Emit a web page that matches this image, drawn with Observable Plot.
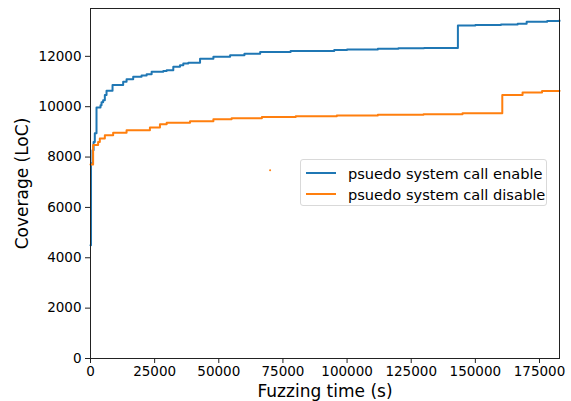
<!DOCTYPE html>
<html>
<head>
<meta charset="utf-8">
<script src="https://cdn.jsdelivr.net/npm/d3@7"></script>
<script src="https://cdn.jsdelivr.net/npm/@observablehq/plot@0.6"></script>
<style>
  html, body { margin: 0; padding: 0; background: #fff; }
  #wrap { position: relative; width: 571px; height: 401px; font-family: "DejaVu Sans", sans-serif; }
  #legend { position: absolute; left: 300px; top: 159px; width: 247px; height: 47px; border: 1px solid #d9d9d9; border-radius: 3px; background: rgba(255,255,255,0.8); box-sizing: border-box; font-size: 14.6px; color: #000; }
  .row { position: absolute; left: 0; height: 20px; display: flex; align-items: center; }
  .sw { width: 30px; height: 2px; margin-left: 5px; margin-right: 12px; }
</style>
</head>
<body>
<div id="wrap"></div>
<script>
const seriesNames = ["psuedo system call enable", "psuedo system call disable"];
const seriesColors = ["#1f77b4", "#ff7f0e"];

const enableTime = [0, 200, 780, 1200, 1680, 2340, 3900, 4300, 4920, 5590, 6250, 8590, 12730, 14060, 16640, 19900, 21880, 23830, 28360, 29690, 32270, 34880, 36170, 38130, 42700, 47900, 54410, 60000, 66130, 78000, 95000, 100000, 112000, 120000, 130000, 143200, 150000, 160000, 166500, 170000, 178000, 182800];
const enableCov = [4500, 7750, 8270, 8600, 8950, 9970, 10060, 10180, 10260, 10460, 10630, 10860, 10990, 11090, 11185, 11240, 11292, 11384, 11420, 11451, 11583, 11650, 11717, 11742, 11901, 11980, 12048, 12100, 12170, 12210, 12250, 12270, 12300, 12320, 12330, 13220, 13240, 13260, 13290, 13375, 13400, 13420];

const disableTime = [0, 1020, 2970, 3630, 5590, 8830, 14060, 23160, 27070, 29690, 38790, 47900, 55000, 66800, 80000, 96000, 112000, 129800, 145000, 160500, 168400, 176000, 182800];
const disableCov = [7700, 8480, 8600, 8740, 8870, 8970, 9060, 9170, 9300, 9360, 9420, 9500, 9540, 9594, 9620, 9650, 9680, 9700, 9740, 10460, 10565, 10620, 10630];

const strayTime = [70000];
const strayCov = [7480];

const xTicks = [0, 25000, 50000, 75000, 100000, 125000, 150000, 175000];
const yTicks = [0, 2000, 4000, 6000, 8000, 10000, 12000];

const enable = enableTime.map((t, i) => ({t, v: enableCov[i]}));
const disable = disableTime.map((t, i) => ({t, v: disableCov[i]}));
const stray = strayTime.map((t, i) => ({t, v: strayCov[i]}));

const chart = Plot.plot({
  width: 571,
  height: 401,
  marginLeft: 90,
  marginRight: 12,
  marginTop: 8,
  marginBottom: 43,
  style: {fontFamily: "DejaVu Sans, sans-serif", fontSize: "13px", color: "#000", background: "#fff"},
  x: {domain: [0, 182800]},
  y: {domain: [0, 13900]},
  marks: [
    Plot.lineY(enable, {x: "t", y: "v", curve: "step-after", stroke: seriesColors[0], strokeWidth: 2}),
    Plot.lineY(disable, {x: "t", y: "v", curve: "step-after", stroke: seriesColors[1], strokeWidth: 2}),
    Plot.dot(stray, {x: "t", y: "v", r: 1, fill: seriesColors[1], stroke: null}),
    Plot.frame({stroke: "#222", strokeWidth: 1}),
    Plot.axisX(xTicks, {tickSize: 5, tickPadding: 3, tickFormat: d => String(d), fontSize: 13.5,
      label: "Fuzzing time (s)", labelAnchor: "center", labelArrow: "none", labelOffset: 38, stroke: "#222"}),
    Plot.axisY(yTicks, {tickSize: 5, tickPadding: 4, tickFormat: d => String(d), fontSize: 13.5,
      label: "Coverage (LoC)", labelAnchor: "center", labelArrow: "none", labelOffset: 75, stroke: "#222"})
  ]
});

const wrap = document.getElementById("wrap");
wrap.appendChild(chart);
chart.querySelectorAll("g[aria-label='x-axis label'] text, g[aria-label='y-axis label'] text").forEach(t => t.setAttribute("font-size", "17"));

const legend = document.createElement("div");
legend.id = "legend";
seriesNames.forEach((name, i) => {
  const row = document.createElement("div");
  row.className = "row";
  row.style.top = (3 + i * 21) + "px";
  const sw = document.createElement("div");
  sw.className = "sw";
  sw.style.background = seriesColors[i];
  const label = document.createElement("span");
  label.textContent = name;
  row.appendChild(sw);
  row.appendChild(label);
  legend.appendChild(row);
});
wrap.appendChild(legend);
</script>
</body>
</html>
